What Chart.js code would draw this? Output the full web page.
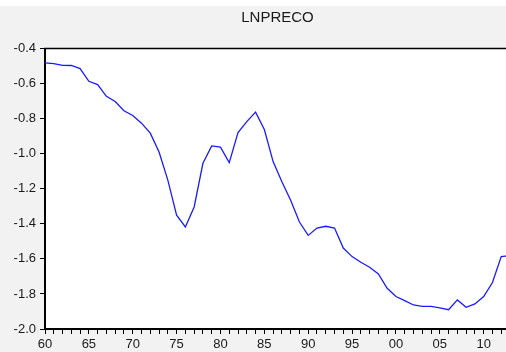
<!DOCTYPE html>
<html>
<head>
<meta charset="utf-8">
<script src="https://cdn.jsdelivr.net/npm/chart.js@4/dist/chart.umd.min.js"></script>
<style>
  html, body { margin: 0; padding: 0; overflow: hidden; background: #f2f2f2; }
  canvas { display: block; }
</style>
</head>
<body>
<canvas id="chart" width="520" height="352"></canvas>
<script>
const title = 'LNPRECO';

const years = [
  1960, 1961, 1962, 1963, 1964, 1965, 1966, 1967, 1968, 1969,
  1970, 1971, 1972, 1973, 1974, 1975, 1976, 1977, 1978, 1979,
  1980, 1981, 1982, 1983, 1984, 1985, 1986, 1987, 1988, 1989,
  1990, 1991, 1992, 1993, 1994, 1995, 1996, 1997, 1998, 1999,
  2000, 2001, 2002, 2003, 2004, 2005, 2006, 2007, 2008, 2009,
  2010, 2011, 2012, 2013,
];

const lnpreco = [
  -0.482, -0.486, -0.496, -0.497, -0.515, -0.587, -0.606, -0.673, -0.702, -0.755,
  -0.782, -0.826, -0.883, -0.99, -1.151, -1.351, -1.418, -1.304, -1.055, -0.956,
  -0.963, -1.051, -0.88, -0.817, -0.763, -0.862, -1.045, -1.16, -1.265, -1.39,
  -1.466, -1.424, -1.414, -1.424, -1.538, -1.587, -1.619, -1.648, -1.686, -1.768,
  -1.815, -1.838, -1.863, -1.871, -1.871, -1.88, -1.89, -1.834, -1.876, -1.857,
  -1.815, -1.735, -1.587, -1.582,
];

const yTicks = [-2.0, -1.8, -1.6, -1.4, -1.2, -1.0, -0.8, -0.6, -0.4];

const points = years.map((y, i) => ({ x: y, y: lnpreco[i] }));

const frame = {
  id: 'frame',
  beforeDraw(chart) {
    const { ctx, chartArea } = chart;
    ctx.save();
    ctx.fillStyle = '#ffffff';
    ctx.fillRect(0, 0, chart.width, 6);
    ctx.fillStyle = '#f2f2f2';
    ctx.fillRect(0, 6, chart.width, chart.height - 6);
    ctx.fillStyle = '#ffffff';
    ctx.fillRect(chartArea.left, chartArea.top,
      chartArea.right - chartArea.left, chartArea.bottom - chartArea.top);
    ctx.restore();
  },
  afterDraw(chart) {
    const { ctx, chartArea } = chart;
    ctx.save();
    ctx.strokeStyle = '#000000';
    ctx.lineWidth = 1.5;
    ctx.beginPath();
    ctx.moveTo(chartArea.left - 1, chartArea.top);
    ctx.lineTo(chartArea.right, chartArea.top);
    ctx.stroke();
    ctx.restore();
  },
};

Chart.defaults.font.family = '"Liberation Sans", Arial, sans-serif';
Chart.defaults.color = '#1a1a1a';

new Chart(document.getElementById('chart').getContext('2d'), {
  type: 'line',
  data: {
    datasets: [
      {
        label: title,
        data: points,
        borderColor: '#1a1aff',
        borderWidth: 1.3,
        pointRadius: 0,
        tension: 0,
        fill: false,
      },
    ],
  },
  options: {
    responsive: false,
    animation: false,
    devicePixelRatio: 1,
    layout: { padding: { left: 0, right: 10, top: 0, bottom: 0 } },
    plugins: {
      legend: { display: false },
      tooltip: { enabled: false },
      title: {
        display: true,
        text: title,
        fullSize: false,
        color: '#1a1a1a',
        font: { size: 15, weight: 'normal', lineHeight: 1.2 },
        padding: { top: 9, bottom: 21.5 },
      },
    },
    scales: {
      x: {
        type: 'linear',
        min: 1960,
        max: 2013,
        afterFit: (scale) => { scale.height = 23; },
        border: { display: true, color: '#000000', width: 2 },
        grid: { drawOnChartArea: false, tickLength: 5, color: '#000000', lineWidth: 1 },
        ticks: {
          stepSize: 1,
          autoSkip: false,
          maxRotation: 0,
          padding: 3,
          font: { size: 13 },
          callback: (v) => (v % 5 === 0 ? String(v % 100).padStart(2, '0') : ''),
        },
      },
      y: {
        min: -2.0,
        max: -0.4,
        afterFit: (scale) => { scale.width = 45; },
        afterBuildTicks: (scale) => { scale.ticks = yTicks.map((v) => ({ value: v })); },
        border: { display: true, color: '#000000', width: 2 },
        grid: { drawOnChartArea: false, tickLength: 5, color: '#000000', lineWidth: 1 },
        ticks: {
          padding: 4,
          font: { size: 13 },
          callback: (v) => Number(v).toFixed(1),
        },
      },
    },
  },
  plugins: [frame],
});
</script>
</body>
</html>
